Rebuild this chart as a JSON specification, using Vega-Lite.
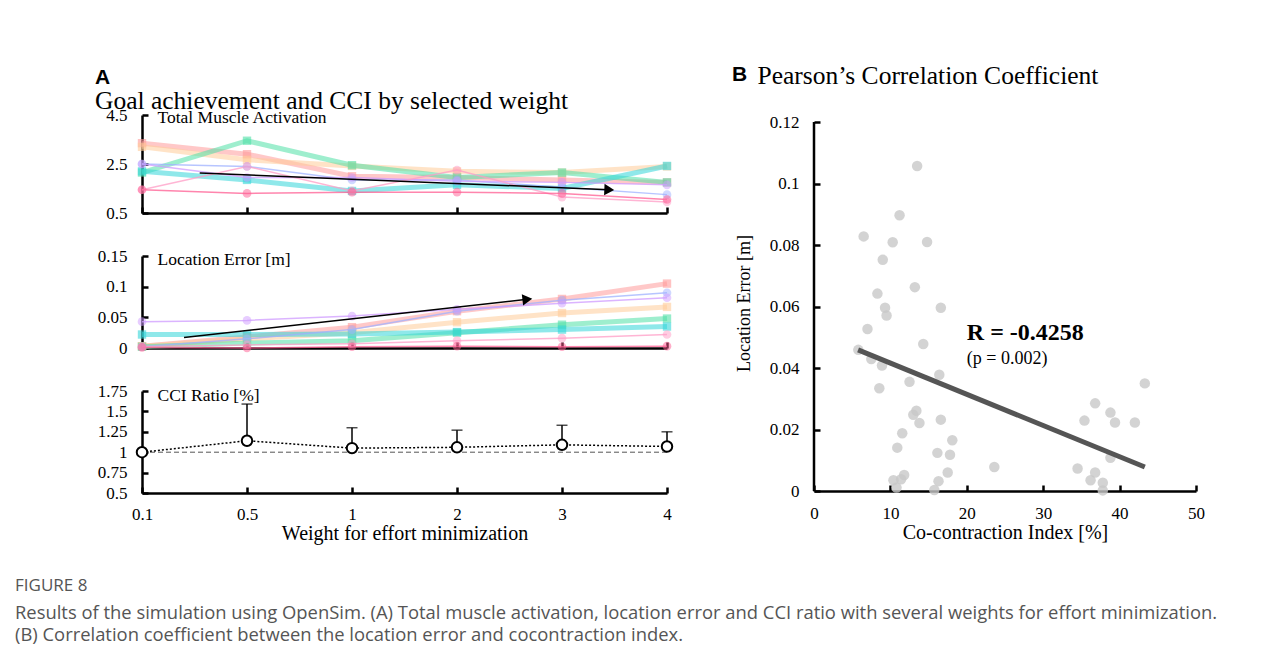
{
  "$schema": "https://vega.github.io/schema/vega-lite/v6.json",
  "background": "white",
  "padding": {"left": 15, "top": 63, "right": 10, "bottom": 10},
  "config": {
    "view": {"stroke": null},
    "font": "Liberation Serif",
    "axis": {"domainColor": "black", "domainWidth": 2.5, "tickColor": "black", "tickWidth": 2.5, "labelFont": "Liberation Serif", "labelFontSize": 17, "labelColor": "black", "titleFont": "Liberation Serif", "titleFontWeight": "normal", "titleColor": "black", "grid": false, "labelFlush": false}
  },
  "title": {
    "text": "FIGURE 8",
    "subtitle": ["Results of the simulation using OpenSim. (A) Total muscle activation, location error and CCI ratio with several weights for effort minimization.", "(B) Correlation coefficient between the location error and cocontraction index."],
    "orient": "bottom", "anchor": "start", "frame": "group", "dx": -127, "offset": 35,
    "font": "Open Sans", "fontSize": 17, "fontWeight": "normal", "color": "#555555",
    "subtitleFont": "Open Sans", "subtitleFontSize": 18.4, "subtitleColor": "#555555", "subtitlePadding": 9, "subtitleLineHeight": 22
  },
  "datasets": {
    "grid": [{"idx": 1}, {"idx": 2}, {"idx": 3}, {"idx": 4}, {"idx": 5}],
    "group1": [
      {"s": "salmon", "idx": 0, "tma": 3.35, "le": 0.003}, {"s": "salmon", "idx": 1, "tma": 2.9, "le": 0.018}, {"s": "salmon", "idx": 2, "tma": 2.0, "le": 0.034}, {"s": "salmon", "idx": 3, "tma": 1.95, "le": 0.06}, {"s": "salmon", "idx": 4, "tma": 1.85, "le": 0.08}, {"s": "salmon", "idx": 5, "tma": 1.75, "le": 0.105},
      {"s": "orange", "idx": 0, "tma": 3.2, "le": 0.003}, {"s": "orange", "idx": 1, "tma": 2.67, "le": 0.015}, {"s": "orange", "idx": 2, "tma": 2.42, "le": 0.025}, {"s": "orange", "idx": 3, "tma": 2.2, "le": 0.042}, {"s": "orange", "idx": 4, "tma": 2.15, "le": 0.057}, {"s": "orange", "idx": 5, "tma": 2.4, "le": 0.067},
      {"s": "green", "idx": 0, "tma": 2.15, "le": 0.002}, {"s": "green", "idx": 1, "tma": 3.45, "le": 0.008}, {"s": "green", "idx": 2, "tma": 2.45, "le": 0.012}, {"s": "green", "idx": 3, "tma": 1.95, "le": 0.025}, {"s": "green", "idx": 4, "tma": 2.15, "le": 0.038}, {"s": "green", "idx": 5, "tma": 1.75, "le": 0.048},
      {"s": "cyan", "idx": 0, "tma": 2.2, "le": 0.022}, {"s": "cyan", "idx": 1, "tma": 1.85, "le": 0.022}, {"s": "cyan", "idx": 2, "tma": 1.4, "le": 0.023}, {"s": "cyan", "idx": 3, "tma": 1.65, "le": 0.026}, {"s": "cyan", "idx": 4, "tma": 1.5, "le": 0.03}, {"s": "cyan", "idx": 5, "tma": 2.42, "le": 0.035}
    ],
    "group2": [
      {"s": "blue", "idx": 0, "tma": 2.5, "le": 0.002}, {"s": "blue", "idx": 1, "tma": 2.4, "le": 0.015}, {"s": "blue", "idx": 2, "tma": 1.85, "le": 0.03}, {"s": "blue", "idx": 3, "tma": 1.85, "le": 0.06}, {"s": "blue", "idx": 4, "tma": 1.55, "le": 0.078}, {"s": "blue", "idx": 5, "tma": 1.25, "le": 0.09},
      {"s": "lavender", "idx": 0, "tma": 2.5, "le": 0.043}, {"s": "lavender", "idx": 1, "tma": 1.95, "le": 0.045}, {"s": "lavender", "idx": 2, "tma": 1.95, "le": 0.052}, {"s": "lavender", "idx": 3, "tma": 1.8, "le": 0.063}, {"s": "lavender", "idx": 4, "tma": 1.75, "le": 0.073}, {"s": "lavender", "idx": 5, "tma": 1.65, "le": 0.082},
      {"s": "pink", "idx": 0, "tma": 1.45, "le": 0.002}, {"s": "pink", "idx": 1, "tma": 2.4, "le": 0.005}, {"s": "pink", "idx": 2, "tma": 1.4, "le": 0.007}, {"s": "pink", "idx": 3, "tma": 2.25, "le": 0.012}, {"s": "pink", "idx": 4, "tma": 1.15, "le": 0.016}, {"s": "pink", "idx": 5, "tma": 0.95, "le": 0.022},
      {"s": "rose", "idx": 0, "tma": 1.45, "le": 0.001}, {"s": "rose", "idx": 1, "tma": 1.3, "le": 0.0}, {"s": "rose", "idx": 2, "tma": 1.35, "le": 0.002}, {"s": "rose", "idx": 3, "tma": 1.35, "le": 0.003}, {"s": "rose", "idx": 4, "tma": 1.3, "le": 0.002}, {"s": "rose", "idx": 5, "tma": 1.05, "le": 0.003}
    ],
    "trend_tma": [{"idx": 0.55, "idx_end": 4.45, "tma": 2.13, "tma_end": 1.45}],
    "trend_le": [{"idx": 0.4, "idx_end": 3.67, "le": 0.017, "le_end": 0.0795}],
    "baseline": [{"idx": 0, "idx_end": 5, "mean": 1}],
    "cci": [
      {"idx": 0, "mean": 1.0, "upper": 1.0}, {"idx": 1, "mean": 1.14, "upper": 1.59}, {"idx": 2, "mean": 1.05, "upper": 1.3}, {"idx": 3, "mean": 1.06, "upper": 1.27}, {"idx": 4, "mean": 1.09, "upper": 1.33}, {"idx": 5, "mean": 1.07, "upper": 1.25}
    ],
    "scatter": [
      {"cci": 13.5, "err": 0.1057}, {"cci": 11.2, "err": 0.0897}, {"cci": 6.5, "err": 0.0828}, {"cci": 10.3, "err": 0.0809}, {"cci": 14.8, "err": 0.081}, {"cci": 9.0, "err": 0.0752}, {"cci": 13.2, "err": 0.0663}, {"cci": 8.3, "err": 0.0642}, {"cci": 9.3, "err": 0.0596}, {"cci": 16.6, "err": 0.0596}, {"cci": 9.5, "err": 0.0571}, {"cci": 7.0, "err": 0.0527}, {"cci": 5.8, "err": 0.0459}, {"cci": 7.5, "err": 0.0429}, {"cci": 8.9, "err": 0.0408}, {"cci": 8.55, "err": 0.0334}, {"cci": 12.5, "err": 0.0355}, {"cci": 14.3, "err": 0.0478}, {"cci": 16.4, "err": 0.0378}, {"cci": 13.4, "err": 0.0261}, {"cci": 13.0, "err": 0.0248}, {"cci": 13.8, "err": 0.0221}, {"cci": 16.6, "err": 0.0232}, {"cci": 11.55, "err": 0.0188}, {"cci": 18.1, "err": 0.0165}, {"cci": 10.9, "err": 0.0141}, {"cci": 16.15, "err": 0.0124}, {"cci": 17.8, "err": 0.0118}, {"cci": 23.6, "err": 0.0078}, {"cci": 17.5, "err": 0.006}, {"cci": 11.8, "err": 0.0052}, {"cci": 11.4, "err": 0.0038}, {"cci": 10.4, "err": 0.0035}, {"cci": 10.8, "err": 0.0011}, {"cci": 16.3, "err": 0.0032}, {"cci": 15.75, "err": 0.0003}, {"cci": 43.3, "err": 0.035}, {"cci": 36.8, "err": 0.0285}, {"cci": 35.4, "err": 0.0229}, {"cci": 38.8, "err": 0.0255}, {"cci": 39.4, "err": 0.0223}, {"cci": 42.0, "err": 0.0223}, {"cci": 38.8, "err": 0.0108}, {"cci": 34.5, "err": 0.0073}, {"cci": 36.8, "err": 0.006}, {"cci": 36.2, "err": 0.0035}, {"cci": 37.8, "err": 0.0027}, {"cci": 37.8, "err": 0.0002}
    ],
    "fit": [{"cci": 5.77, "err": 0.0459}, {"cci": 43.3, "err": 0.0078}],
    "yline": [{"cci": 0, "err": 0, "errTop": 0.12}],
    "stats": [{"cci": 20, "err": 0.0491, "label": "R = -0.4258"}],
    "pval": [{"cci": 20, "err": 0.0413, "label": "(p = 0.002)"}]
  },
  "spacing": 55,
  "hconcat": [
    {
      "title": {"text": "A", "subtitle": "Goal achievement and CCI by selected weight", "anchor": "start", "frame": "group", "dx": -47, "offset": -8, "font": "Liberation Sans", "fontSize": 21, "fontWeight": "bold", "color": "black", "subtitleFont": "Liberation Serif", "subtitleFontSize": 25.5, "subtitleColor": "black", "subtitlePadding": 1},
      "spacing": 43,
      "bounds": "flush",
      "vconcat": [
        {
          "width": 525, "height": 98,
          "encoding": {
            "x": {"field": "idx", "type": "quantitative", "scale": {"domain": [0, 5], "nice": false}, "axis": {"values": [0, 1, 2, 3, 4, 5], "labels": false, "title": null, "tickSize": -6}},
            "y": {"field": "tma", "type": "quantitative", "scale": {"domain": [0.5, 4.5], "nice": false, "zero": false}, "axis": {"values": [0.5, 2.5, 4.5], "format": ".3~f", "labelFlush": false, "title": "Total Muscle Activation", "titleAngle": 0, "titleAlign": "left", "titleBaseline": "middle", "titleX": 15, "titleY": 2, "titleFontSize": 17.5, "tickSize": -6, "labelPadding": 21}}
          },
          "layer": [
            {"data": {"name": "grid"}, "mark": {"type": "rule", "color": "#b0b0b0", "strokeDash": [5, 4], "strokeWidth": 1}, "encoding": {"y": {"datum": 4.5, "type": "quantitative"}, "y2": {"datum": -1.3}}},
            {"data": {"name": "group1"}, "mark": {"type": "line", "strokeWidth": 5, "opacity": 0.55}, "encoding": {"color": {"field": "s", "type": "nominal", "legend": null, "scale": {"domain": ["salmon", "orange", "green", "cyan", "blue", "lavender", "pink", "rose"], "range": ["#ff9a9a", "#ffcc99", "#4ee0a6", "#33d6d9", "#9fb2ff", "#cf9bff", "#ff9cc6", "#ff5c92"]}}}},
            {"data": {"name": "group1"}, "mark": {"type": "point", "shape": "square", "filled": true, "size": 70, "opacity": 0.6}, "encoding": {"color": {"field": "s", "type": "nominal", "legend": null}}},
            {"data": {"name": "group2"}, "mark": {"type": "line", "strokeWidth": 1.5, "opacity": 0.75}, "encoding": {"color": {"field": "s", "type": "nominal", "legend": null}}},
            {"data": {"name": "group2"}, "mark": {"type": "point", "shape": "circle", "filled": true, "size": 75, "opacity": 0.5}, "encoding": {"color": {"field": "s", "type": "nominal", "legend": null}}},
            {"data": {"name": "trend_tma"}, "mark": {"type": "rule", "color": "black", "strokeWidth": 1.5}, "encoding": {"x2": {"field": "idx_end"}, "y2": {"field": "tma_end"}}},
            {"data": {"name": "trend_tma"}, "mark": {"type": "point", "shape": "triangle-right", "filled": true, "color": "black", "size": 130, "opacity": 1, "angle": 2.3}, "encoding": {"x": {"field": "idx_end", "type": "quantitative"}, "y": {"field": "tma_end", "type": "quantitative"}}}
          ]
        },
        {
          "width": 525, "height": 92,
          "encoding": {
            "x": {"field": "idx", "type": "quantitative", "scale": {"domain": [0, 5], "nice": false}, "axis": {"values": [0, 1, 2, 3, 4, 5], "labels": false, "title": null, "tickSize": -6}},
            "y": {"field": "le", "type": "quantitative", "scale": {"domain": [0, 0.15], "nice": false}, "axis": {"values": [0, 0.05, 0.1, 0.15], "format": ".3~f", "labelFlush": false, "title": "Location Error [m]", "titleAngle": 0, "titleAlign": "left", "titleBaseline": "middle", "titleX": 15, "titleY": 3, "titleFontSize": 17.5, "tickSize": -6, "labelPadding": 21}}
          },
          "layer": [
            {"data": {"name": "grid"}, "mark": {"type": "rule", "color": "#b0b0b0", "strokeDash": [5, 4], "strokeWidth": 1}, "encoding": {"y": {"datum": 0.15, "type": "quantitative"}, "y2": {"datum": -0.066}}},
            {"data": {"name": "group1"}, "mark": {"type": "line", "strokeWidth": 5, "opacity": 0.55}, "encoding": {"color": {"field": "s", "type": "nominal", "legend": null, "scale": {"domain": ["salmon", "orange", "green", "cyan", "blue", "lavender", "pink", "rose"], "range": ["#ff9a9a", "#ffcc99", "#4ee0a6", "#33d6d9", "#9fb2ff", "#cf9bff", "#ff9cc6", "#ff5c92"]}}}},
            {"data": {"name": "group1"}, "mark": {"type": "point", "shape": "square", "filled": true, "size": 70, "opacity": 0.6}, "encoding": {"color": {"field": "s", "type": "nominal", "legend": null}}},
            {"data": {"name": "group2"}, "mark": {"type": "line", "strokeWidth": 1.5, "opacity": 0.75}, "encoding": {"color": {"field": "s", "type": "nominal", "legend": null}}},
            {"data": {"name": "group2"}, "mark": {"type": "point", "shape": "circle", "filled": true, "size": 75, "opacity": 0.5}, "encoding": {"color": {"field": "s", "type": "nominal", "legend": null}}},
            {"data": {"name": "trend_le"}, "mark": {"type": "rule", "color": "black", "strokeWidth": 1.5}, "encoding": {"x2": {"field": "idx_end"}, "y2": {"field": "le_end"}}},
            {"data": {"name": "trend_le"}, "mark": {"type": "point", "shape": "triangle-right", "filled": true, "color": "black", "size": 130, "opacity": 1, "angle": -6.7}, "encoding": {"x": {"field": "idx_end", "type": "quantitative"}, "y": {"field": "le_end", "type": "quantitative"}}}
          ]
        },
        {
          "width": 525, "height": 102,
          "encoding": {
            "x": {"field": "idx", "type": "quantitative", "scale": {"domain": [0, 5], "nice": false}, "axis": {"values": [0, 1, 2, 3, 4, 5], "labelExpr": "['0.1','0.5','1','2','3','4'][datum.value]", "labelFlush": false, "title": "Weight for effort minimization", "titleFontSize": 20, "titlePadding": 1, "tickSize": -6, "labelPadding": 19}},
            "y": {"field": "mean", "type": "quantitative", "scale": {"domain": [0.5, 1.75], "nice": false, "zero": false}, "axis": {"values": [0.5, 0.75, 1, 1.25, 1.5, 1.75], "format": ".3~f", "labelFlush": false, "title": "CCI Ratio [%]", "titleAngle": 0, "titleAlign": "left", "titleBaseline": "middle", "titleX": 15, "titleY": 4, "titleFontSize": 17.5, "tickSize": -6, "labelPadding": 21}}
          },
          "layer": [
            {"data": {"name": "grid"}, "mark": {"type": "rule", "color": "#b0b0b0", "strokeDash": [5, 4], "strokeWidth": 1}, "encoding": {"y": {"datum": 1.75, "type": "quantitative"}, "y2": {"datum": 0.5}}},
            {"data": {"name": "baseline"}, "mark": {"type": "rule", "color": "#555555", "strokeDash": [5, 3], "strokeWidth": 1}, "encoding": {"x2": {"field": "idx_end"}}},
            {"data": {"name": "cci"}, "transform": [{"filter": "datum.idx > 0"}], "mark": {"type": "rule", "color": "black", "strokeWidth": 1.5}, "encoding": {"y2": {"field": "upper"}}},
            {"data": {"name": "cci"}, "transform": [{"filter": "datum.idx > 0"}], "mark": {"type": "tick", "orient": "horizontal", "size": 11, "thickness": 1.5, "color": "black"}, "encoding": {"y": {"field": "upper", "type": "quantitative"}}},
            {"data": {"name": "cci"}, "mark": {"type": "line", "color": "black", "strokeWidth": 1.5, "strokeDash": [2, 2]}},
            {"data": {"name": "cci"}, "mark": {"type": "point", "shape": "circle", "filled": true, "fill": "white", "stroke": "black", "strokeWidth": 2, "size": 110, "opacity": 1}}
          ]
        }
      ]
    },
    {
      "width": 382, "height": 376,
      "title": {"text": "B", "subtitle": "\u200b\u00a0\u00a0\u00a0\u00a0Pearson’s Correlation Coefficient", "anchor": "start", "frame": "group", "dx": -82, "offset": 24, "font": "Liberation Sans", "fontSize": 21, "fontWeight": "bold", "color": "black", "subtitleFont": "Liberation Serif", "subtitleFontSize": 25.5, "subtitleColor": "black", "subtitlePadding": -21},
      "encoding": {
        "x": {"field": "cci", "type": "quantitative", "scale": {"domain": [0, 50], "nice": false}, "axis": {"values": [0, 10, 20, 30, 40, 50], "labelFlush": false, "title": "Co-contraction Index [%]", "titleFontSize": 20, "titlePadding": 1, "tickSize": -6, "labelPadding": 20}},
        "y": {"field": "err", "type": "quantitative", "scale": {"domain": [0, 0.12228], "nice": false}, "axis": {"values": [0, 0.02, 0.04, 0.06, 0.08, 0.1, 0.12], "format": ".3~f", "labelFlush": false, "domain": false, "title": "Location Error [m]", "titleFontSize": 18, "titlePadding": 16, "tickSize": -6, "labelPadding": 21}}
      },
      "layer": [
        {"data": {"name": "yline"}, "mark": {"type": "rule", "color": "black", "strokeWidth": 2.5}, "encoding": {"y2": {"field": "errTop"}}},
        {"data": {"name": "scatter"}, "mark": {"type": "circle", "size": 110, "color": "#c8c8c8", "opacity": 0.8}},
        {"data": {"name": "fit"}, "mark": {"type": "line", "color": "#555555", "strokeWidth": 5}},
        {"data": {"name": "stats"}, "mark": {"type": "text", "font": "Liberation Serif", "fontSize": 24, "fontWeight": "bold", "align": "left", "baseline": "alphabetic", "color": "black"}, "encoding": {"text": {"field": "label"}}},
        {"data": {"name": "pval"}, "mark": {"type": "text", "font": "Liberation Serif", "fontSize": 18, "align": "left", "baseline": "alphabetic", "color": "black"}, "encoding": {"text": {"field": "label"}}}
      ]
    }
  ]
}
